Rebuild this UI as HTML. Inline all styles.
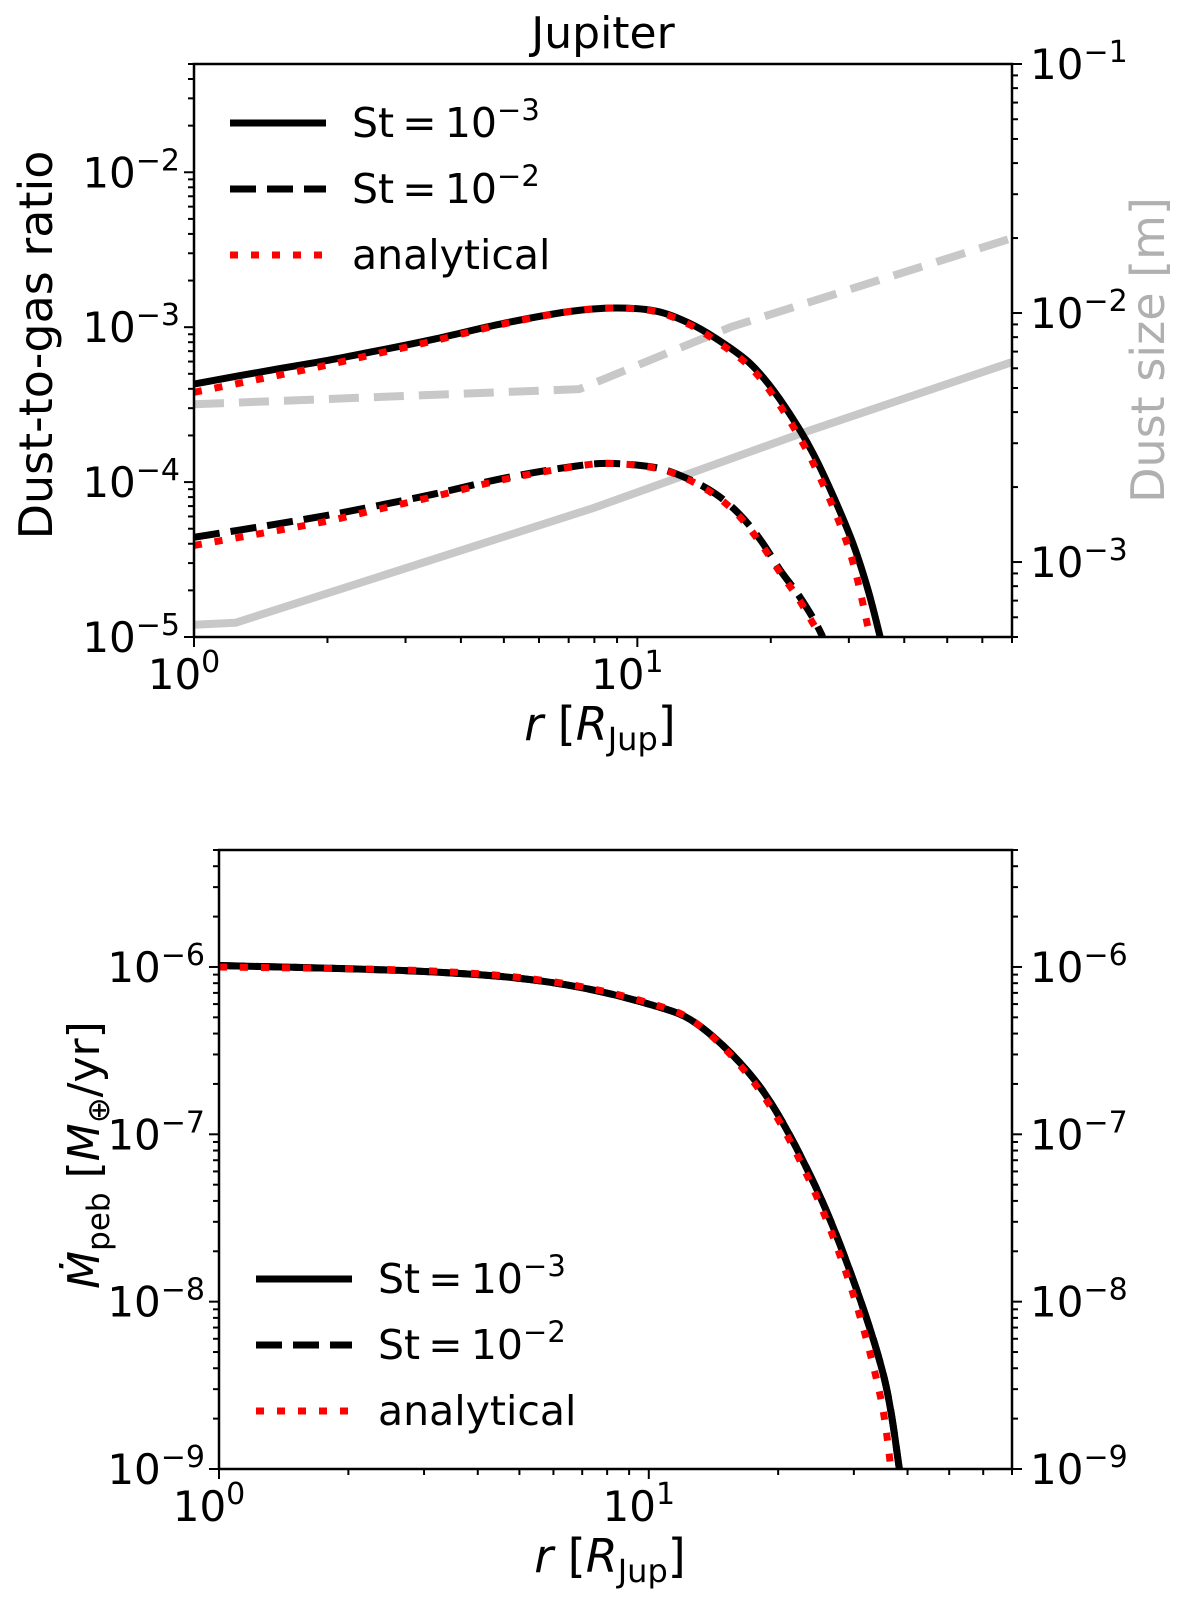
<!DOCTYPE html>
<html><head><meta charset="utf-8">
<style>
html,body{margin:0;padding:0;background:#fff;}
svg{display:block;font-family:"DejaVu Sans","Liberation Sans",sans-serif;}
</style></head>
<body>
<svg id="fig" width="1200" height="1603" viewBox="0 0 1200 1603" xmlns="http://www.w3.org/2000/svg">
<defs>
<clipPath id="clipTop"><rect x="194" y="64" width="818" height="573"/></clipPath>
<clipPath id="clipBot"><rect x="219" y="850" width="793" height="619"/></clipPath>
</defs>
<text x="603" y="48" font-size="44" text-anchor="middle">Jupiter</text>
<g id="top"></g>
<g id="bot"></g>

<text transform="translate(52,345) rotate(-90)" font-size="46" text-anchor="middle">Dust-to-gas ratio</text>
<text transform="translate(1164,350) rotate(-90)" font-size="46" text-anchor="middle" fill="#b0b0b0">Dust size [m]</text>
<text x="600" y="740" font-size="46" text-anchor="middle"><tspan font-style="italic">r</tspan> [<tspan font-style="italic">R</tspan><tspan font-size="32" dy="10">Jup</tspan><tspan dy="-10">]</tspan></text>
<text x="610" y="1572" font-size="46" text-anchor="middle"><tspan font-style="italic">r</tspan> [<tspan font-style="italic">R</tspan><tspan font-size="32" dy="10">Jup</tspan><tspan dy="-10">]</tspan></text>
<text transform="translate(99,1155) rotate(-90)" font-size="44" text-anchor="middle"><tspan font-style="italic">Ṁ</tspan><tspan font-size="31" dy="10">peb</tspan><tspan dy="-10"> [</tspan><tspan font-style="italic">M</tspan><tspan font-size="31" dy="10">⊕</tspan><tspan dy="-10">/yr]</tspan></text>
</svg>
<script>
// ---------- data ----------
const rSt3 = [1,1.5,2,2.5,3.5,5,7,8.9,11,13,15,18,21,25,30,33,35.3];
const dgSt3 = [4.3e-4,5.3e-4,6.1e-4,6.9e-4,8.4e-4,1.06e-3,1.26e-3,1.33e-3,1.27e-3,1.07e-3,8.5e-4,5.8e-4,3.4e-4,1.5e-4,4.7e-5,2.1e-5,1e-5];
const rSt3An = [1,1.5,2,2.5,3.5,5,7,8.9,11,13,15,18,21,25,30,33.5];
const dgSt3An = [3.8e-4,4.8e-4,5.7e-4,6.6e-4,8.2e-4,1.05e-3,1.26e-3,1.33e-3,1.26e-3,1.05e-3,8.2e-4,5.5e-4,3.1e-4,1.3e-4,3.7e-5,1e-5];
const rSt2 = [1,1.5,2,2.5,3.5,5,7,8.6,11,13,15,17,19,21,23,25,26.2];
const dgSt2 = [4.4e-5,5.3e-5,6.1e-5,6.9e-5,8.4e-5,1.06e-4,1.25e-4,1.32e-4,1.24e-4,1.05e-4,8.4e-5,6.2e-5,4.2e-5,2.7e-5,1.9e-5,1.3e-5,1e-5];
const rSt2An = [1,1.5,2,2.5,3.5,5,7,8.6,11,13,15,17,19,21,23,25,26.0];
const dgSt2An = [3.9e-5,4.8e-5,5.6e-5,6.5e-5,8.1e-5,1.04e-4,1.24e-4,1.32e-4,1.23e-4,1.04e-4,8.2e-5,6.0e-5,4.0e-5,2.6e-5,1.8e-5,1.2e-5,1e-5];
const rSizeSt3 = [1,1.24,7.9,23.6,70];
const sizeSt3 = [5.6e-4,5.7e-4,1.64e-3,3.3e-3,6.35e-3];
const rSizeSt2 = [1,7.4,16.3,70];
const sizeSt2 = [4.3e-3,4.95e-3,8.8e-3,2.0e-2];
const rMdot = [1,3,5.9,10,13.2,18.2,23.9,29.6,35.3,38.3];
const mdotNum = [1.02e-6,9.4e-7,8.1e-7,6e-7,4.4e-7,1.9e-7,5.5e-8,1.45e-8,3.5e-9,1e-9];
const rMdotAn = [1,3,5.9,10,13.2,18.2,23.9,29.6,34.5,36.6];
const mdotAn = [1.0e-6,9.5e-7,8.2e-7,6.1e-7,4.4e-7,1.8e-7,5e-8,1.2e-8,2.8e-9,1e-9];
const xTickExps = [0,1];
const topLeftExps = [-5,-4,-3,-2];
const topRightExps = [-3,-2,-1];
const botExps = [-9,-8,-7,-6];

// ---------- helpers ----------
const NS="http://www.w3.org/2000/svg";
function el(tag, attrs, parent){const e=document.createElementNS(NS,tag);for(const k in attrs)e.setAttribute(k,attrs[k]);parent.appendChild(e);return e;}
function logScale(d0,d1,p0,p1){const a=Math.log10(d0),b=Math.log10(d1);return v=>p0+(Math.log10(v)-a)/(b-a)*(p1-p0);}
function smoothPath(pts){
  let d="M"+pts[0][0].toFixed(1)+","+pts[0][1].toFixed(1);
  for(let i=0;i<pts.length-1;i++){
    const p0=pts[i-1]||pts[i],p1=pts[i],p2=pts[i+1],p3=pts[i+2]||p2;
    const c1=[p1[0]+(p2[0]-p0[0])/6,p1[1]+(p2[1]-p0[1])/6];
    const c2=[p2[0]-(p3[0]-p1[0])/6,p2[1]-(p3[1]-p1[1])/6];
    d+=" C"+c1[0].toFixed(1)+","+c1[1].toFixed(1)+" "+c2[0].toFixed(1)+","+c2[1].toFixed(1)+" "+p2[0].toFixed(1)+","+p2[1].toFixed(1);
  }
  return d;
}
function linPath(pts){return "M"+pts.map(p=>p[0].toFixed(1)+","+p[1].toFixed(1)).join(" L");}
function line(parent, xs, ys, sx, sy, style, name, clip, straight){
  const pts=xs.map((x,i)=>[sx(x),sy(ys[i])]);
  const p=el("path",Object.assign({d:straight?linPath(pts):smoothPath(pts),fill:"none","clip-path":"url(#"+clip+")","stroke-linejoin":"round"},style),parent);
  
  
}
function sup(parent,x,y,exp,anchor,name,color){
  const t=el("text",{x:x,y:y,"font-size":42,"text-anchor":anchor,fill:color||"#000"},parent);
  
  
  const a=document.createElementNS(NS,"tspan");a.textContent="10";t.appendChild(a);
  const b=document.createElementNS(NS,"tspan");b.setAttribute("font-size","30");b.setAttribute("dy","-17");b.textContent=(exp<0?"\u2212":"")+Math.abs(exp);t.appendChild(b);
}
function axes(g, L,R,T,B, sx, yL, yR, lExps, rExps, xLabels, ylo, yhi, rlo, rhi){
  el("rect",{x:L,y:T,width:R-L,height:B-T,fill:"none",stroke:"#000","stroke-width":2.5},g);
  for(let d=0; d<2; d++) for(let m=1;m<10;m++){
    const v=m*Math.pow(10,d); if(v>70) continue;
    const x=sx(v); const major=m===1;
    const t=el("line",{x1:x,x2:x,y1:B,y2:B+(major?10:6),stroke:"#000","stroke-width":2},g);
    
  }
  xLabels.forEach(e=>{sup(g,sx(Math.pow(10,e))-10,B+52,e,"middle","x-tick-label");});
  function yticks(sy,lo,hi,side){
    for(let d=Math.floor(Math.log10(lo)); d<=Math.ceil(Math.log10(hi)); d++) for(let m=1;m<10;m++){
      const v=m*Math.pow(10,d); if(v<lo*0.999||v>hi*1.001) continue;
      const y=sy(v); const major=m===1; const len=major?10:6;
      const x1=side==="L"?L:R, x2=side==="L"?L-len:R+len;
      const t=el("line",{x1:x1,x2:x2,y1:y,y2:y,stroke:"#000","stroke-width":2},g);
      
    }
  }
  yticks(yL,ylo,yhi,"L");
  yticks(yR,rlo,rhi,"R");
  lExps.forEach(e=>{sup(g,L-14,yL(Math.pow(10,e))+15,e,"end","left-y-tick-label");});
  rExps.forEach(e=>{sup(g,R+18,yR(Math.pow(10,e))+15,e,"start","right-y-tick-label");});
}
function legend(g,x,y0,dy,name){
  const items=[["St",-3,{stroke:"#000","stroke-width":7}],["St",-2,{stroke:"#000","stroke-width":7,"stroke-dasharray":"26 11"}],["analytical",0,{stroke:"#ff0000","stroke-width":7,"stroke-dasharray":"8 13"}]];
  items.forEach((it,i)=>{
    const y=y0+i*dy;
    const l=el("line",Object.assign({x1:x,x2:x+96,y1:y,y2:y},it[2]),g);
    
    
    const t=el("text",{x:x+122,y:y+14,"font-size":41},g);
    
    
    if(it[0]==="St"){
      t.appendChild(document.createTextNode("St\u2009=\u200910"));
      const s=document.createElementNS(NS,"tspan");s.setAttribute("font-size","29");s.setAttribute("dy","-17");s.textContent="\u2212"+Math.abs(it[1]);t.appendChild(s);
    } else t.textContent="analytical";
  });
}

// ---------- top panel ----------
const gT=document.getElementById("top");
const sxT=logScale(1,70,194,1012);
const syT=logScale(1e-5,5e-2,637,64);
const syTR=logScale(5e-4,1e-1,637,64);
line(gT,rSizeSt3,sizeSt3,sxT,syTR,{stroke:"#c8c8c8","stroke-width":8},"dust-size-st3","clipTop",true);
line(gT,rSizeSt2,sizeSt2,sxT,syTR,{stroke:"#c8c8c8","stroke-width":8,"stroke-dasharray":"30 15"},"dust-size-st2","clipTop",true);
line(gT,rSt3,dgSt3,sxT,syT,{stroke:"#000","stroke-width":7},"dust-to-gas-st3","clipTop");
line(gT,rSt2,dgSt2,sxT,syT,{stroke:"#000","stroke-width":7,"stroke-dasharray":"26 11"},"dust-to-gas-st2","clipTop");
line(gT,rSt3An,dgSt3An,sxT,syT,{stroke:"#ff0000","stroke-width":7,"stroke-dasharray":"8 13"},"analytical-st3","clipTop");
line(gT,rSt2An,dgSt2An,sxT,syT,{stroke:"#ff0000","stroke-width":7,"stroke-dasharray":"8 13"},"analytical-st2","clipTop");
axes(gT,194,1012,64,637,sxT,syT,syTR,topLeftExps,topRightExps,xTickExps,1e-5,5e-2,5e-4,1e-1);
legend(gT,230,123,66,"top-legend");

// ---------- bottom panel ----------
const gB=document.getElementById("bot");
const sxB=logScale(1,70,219,1012);
const syB=logScale(1e-9,5e-6,1469,850);
line(gB,rMdot,mdotNum,sxB,syB,{stroke:"#000","stroke-width":7},"mdot-st3","clipBot");
line(gB,rMdot,mdotNum,sxB,syB,{stroke:"#000","stroke-width":7,"stroke-dasharray":"26 11"},"mdot-st2","clipBot");
line(gB,rMdotAn,mdotAn,sxB,syB,{stroke:"#ff0000","stroke-width":7,"stroke-dasharray":"8 13"},"mdot-analytical","clipBot");
axes(gB,219,1012,850,1469,sxB,syB,syB,botExps,botExps,xTickExps,1e-9,5e-6,1e-9,5e-6);
legend(gB,256,1279,66,"bottom-legend");
</script>
</body></html>
